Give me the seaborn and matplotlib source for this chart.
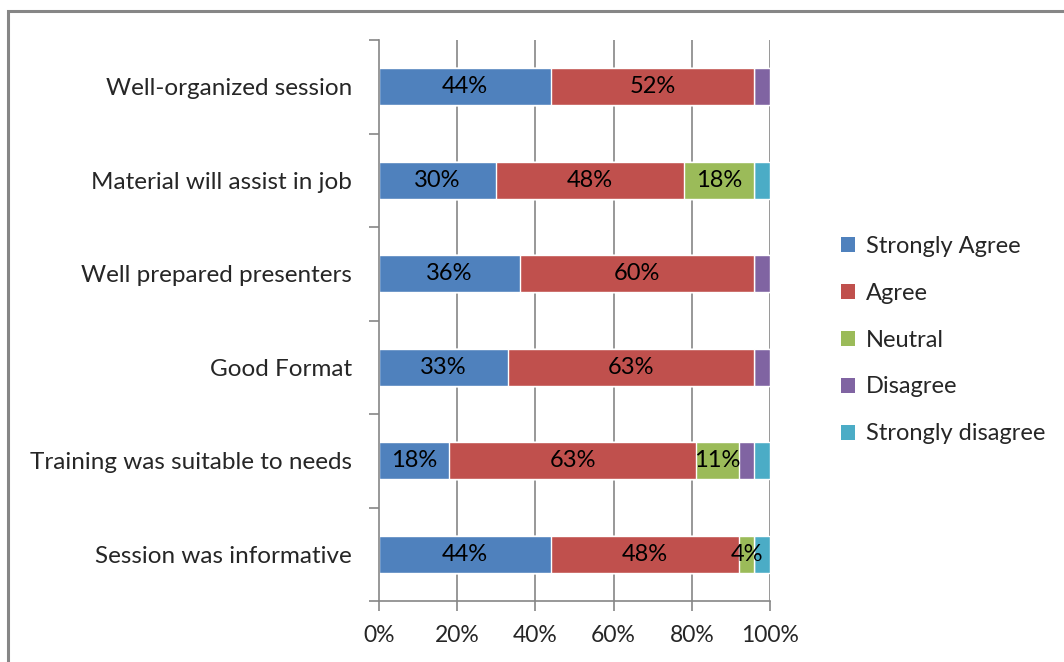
import numpy as np
import pandas as pd
import matplotlib
matplotlib.use("Agg")
import matplotlib.pyplot as plt
from matplotlib.patches import Rectangle, Patch
import seaborn as sns

categories = ["Well-organized session", "Material will assist in job", "Well prepared presenters",
              "Good Format", "Training was suitable to needs", "Session was informative"]
series_names = ["Strongly Agree", "Agree", "Neutral", "Disagree", "Strongly disagree"]
strongly_agree = [44, 30, 36, 33, 18, 44]
agree = [52, 48, 60, 63, 63, 48]
neutral = [0, 18, 0, 0, 11, 4]
disagree = [4, 0, 4, 4, 4, 0]
strongly_disagree = [0, 4, 0, 0, 4, 4]
x_ticks = [0, 20, 40, 60, 80, 100]
x_tick_labels = ["0%", "20%", "40%", "60%", "80%", "100%"]
labeled_series = ["Strongly Agree", "Agree", "Neutral"]

colors = ["#4F81BD", "#C0504D", "#9BBB59", "#8064A2", "#4BACC6"]

sns.set_style("white")
plt.rcParams["font.family"] = ["Lato", "DejaVu Sans"]

values = np.array([strongly_agree, agree, neutral, disagree, strongly_disagree], dtype=float)
cum = np.cumsum(values, axis=0)

fig = plt.figure(figsize=(10.64, 6.62), dpi=100)
W, H = 1064, 662
ax = fig.add_axes([379 / W, 1 - 601 / H, (770 - 379) / W, (601 - 40) / H])

# vertical gridlines
for t in x_ticks[1:]:
    ax.axvline(t, color="#868686", lw=1.2, zorder=0)

for i in range(len(series_names) - 1, -1, -1):
    df = pd.DataFrame({"cat": categories, "val": cum[i]})
    sns.barplot(data=df, x="val", y="cat", orient="h", color=colors[i], width=0.4,
                saturation=1, ax=ax, zorder=2, order=categories)

# data labels
for i, name in enumerate(series_names):
    if name not in labeled_series:
        continue
    for j in range(len(categories)):
        v = values[i, j]
        if v <= 0:
            continue
        left = cum[i, j] - v
        ax.text(left + v / 2, j, f"{int(v)}%", ha="center", va="center",
                fontsize=17, color="black", zorder=5)

ax.set_xlim(0, 100)
ax.set_ylim(len(categories) - 0.5, -0.5)
ax.set_xticks(x_ticks)
ax.set_xticklabels(x_tick_labels, fontsize=16.5)
ax.set_yticks(np.arange(-0.5, len(categories)))
ax.set_yticklabels([])
ax.set_yticks(np.arange(len(categories)), minor=True)
ax.set_yticklabels(categories, minor=True, fontsize=17.5)
ax.tick_params(axis="y", which="minor", length=0, pad=19.5)
ax.tick_params(axis="y", which="major", length=7, width=1.2, color="#868686", direction="out", left=True)
ax.tick_params(axis="x", length=7, width=1.2, color="#868686", direction="out", bottom=True, pad=10)
ax.set_xlabel("")
ax.set_ylabel("")
for s in ["top", "right"]:
    ax.spines[s].set_visible(False)
for s in ["left", "bottom"]:
    ax.spines[s].set_color("#868686")
    ax.spines[s].set_linewidth(1.2)

handles = [Patch(facecolor=c, edgecolor="none") for c in colors]
fig.legend(handles, series_names, loc="center left", bbox_to_anchor=(820 / W, 1 - 340 / H),
           frameon=False, fontsize=17, handlelength=0.6, handleheight=0.6,
           handletextpad=0.45, labelspacing=1.1)

fig.patches.append(Rectangle((8 / W, -0.1), 1.2, (1 - 10.5 / H) + 0.1, transform=fig.transFigure,
                             fill=False, edgecolor="#868686", lw=2.2, zorder=10))

fig.savefig("out.png", dpi=100)
